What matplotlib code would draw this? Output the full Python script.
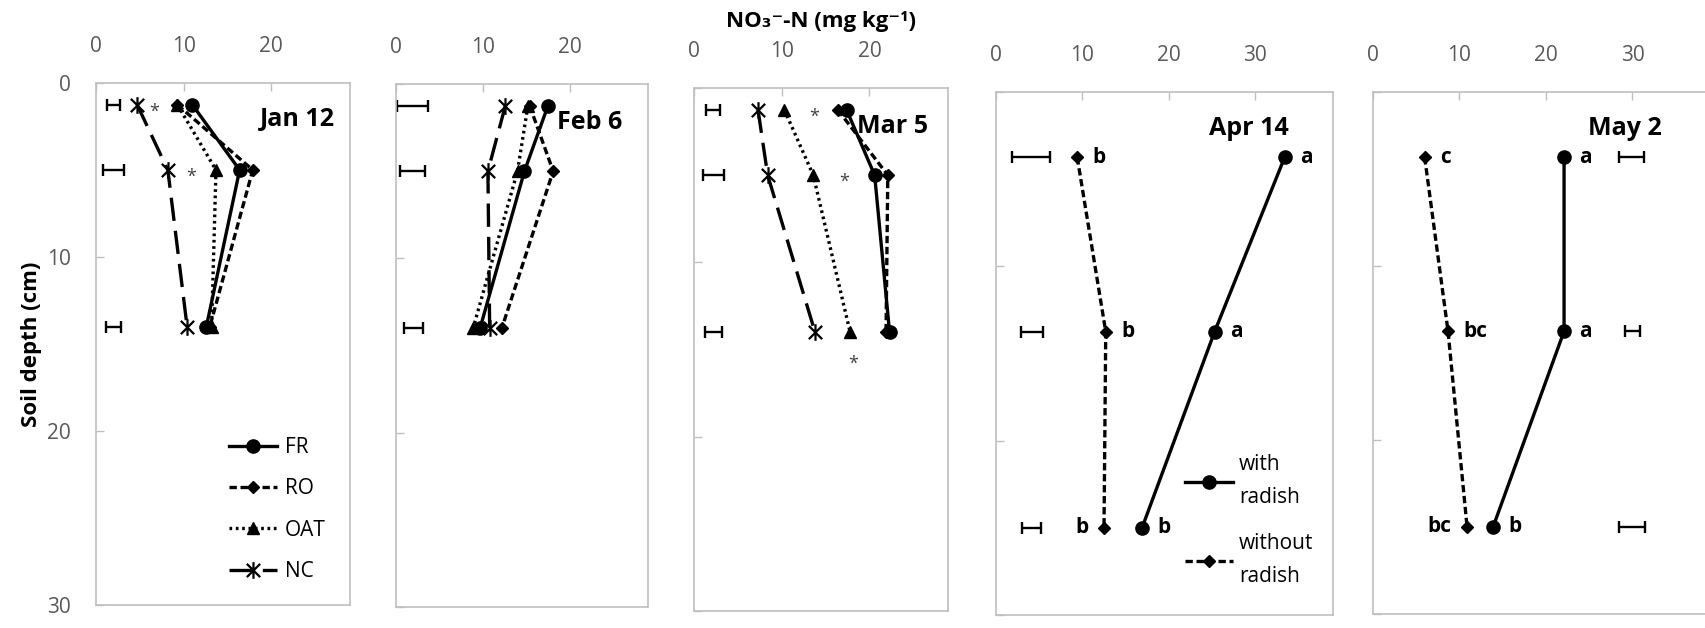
import matplotlib
matplotlib.use("Agg")
import matplotlib.pyplot as plt
from matplotlib.path import Path

plt.rcParams['font.family'] = ['Open Sans', 'DejaVu Sans']

# sampling depths (cm)
depth_winter = [1.25, 5.0, 14.0]
depth_spring = [3.75, 13.75, 25.0]

# NO3-N by cover crop treatment, Jan 12 / Feb 6 / Mar 5
treatments = ['FR', 'RO', 'OAT', 'NC']
jan_vals = {'FR': [11.0, 16.4, 12.6], 'RO': [9.3, 17.9, 13.0],
            'OAT': [9.3, 13.7, 13.2], 'NC': [4.7, 8.2, 10.4]}
feb_vals = {'FR': [17.5, 14.8, 9.7], 'RO': [15.4, 18.1, 12.2],
            'OAT': [15.2, 14.0, 8.9], 'NC': [12.6, 10.6, 10.8]}
mar_vals = {'FR': [17.4, 20.6, 22.3], 'RO': [16.4, 22.1, 21.9],
            'OAT': [10.3, 13.6, 17.8], 'NC': [7.3, 8.4, 13.8]}

# LSD bars: centre and half width
jan_lsd_x = [2.0, 2.0, 2.0]
jan_lsd_half = [0.7, 1.2, 0.9]
feb_lsd_x = [1.95, 1.95, 2.05]
feb_lsd_half = [1.75, 1.45, 1.1]
mar_lsd_x = [2.2, 2.2, 2.2]
mar_lsd_half = [0.8, 1.2, 0.95]

# significance asterisks (x, depth)
jan_stars = [(6.6, 1.25), (10.9, 5.0)]
mar_stars = [(13.7, 1.25), (17.1, 5.0), (18.2, 15.4)]

# with / without radish, Apr 14 and May 2
apr_with = [33.4, 25.3, 16.9]
apr_without = [9.4, 12.7, 12.5]
apr_with_letters = ['a', 'a', 'b']
apr_without_letters = ['b', 'b', 'b']
apr_lsd_x = [4.0, 4.15, 4.1]
apr_lsd_half = [2.2, 1.25, 1.05]

may_with = [22.1, 22.1, 13.9]
may_without = [6.0, 8.7, 10.9]
may_with_letters = ['a', 'a', 'b']
may_without_letters = ['c', 'bc', 'bc']
may_lsd_x = [29.9, 30.0, 30.0]
may_lsd_half = [1.4, 0.9, 1.5]

# Excel-like star marker: X with a vertical bar
star = Path([(0, -1), (0, 1), (-0.8, -0.8), (0.8, 0.8), (-0.8, 0.8), (0.8, -0.8)],
            [Path.MOVETO, Path.LINETO] * 3)

styles = {
    'FR': dict(ls='-', marker='o', ms=9.5),
    'RO': dict(ls=(0, (2.2, 1.1)), marker='D', ms=6.5),
    'OAT': dict(ls=(0, (0.8, 1.1)), marker='^', ms=9),
    'NC': dict(ls=(0, (7, 3)), marker=star, ms=12, mew=1.6, mfc='none'),
}
radish_with = dict(ls='-', marker='o', ms=9.5)
radish_without = dict(ls=(0, (2.2, 1.1)), marker='D', ms=6.5)

W, H = 1705, 628
fig = plt.figure(figsize=(W / 100, H / 100), dpi=100)


def add_panel(left, right, top, bottom, xmax, xticks):
    ax = fig.add_axes([left / W, 1 - bottom / H, (right - left) / W, (bottom - top) / H])
    ax.set_xlim(0, xmax)
    ax.set_ylim(30, 0)
    ax.xaxis.tick_top()
    ax.set_xticks(xticks)
    ax.set_yticks([0, 10, 20, 30])
    ax.tick_params(axis='both', direction='in', length=6, width=1, color='#bfbfbf',
                   labelsize=15, labelcolor='#595959')
    ax.tick_params(axis='x', pad=19)
    ax.tick_params(axis='y', pad=18, labelleft=False)
    for s in ax.spines.values():
        s.set_color('#bfbfbf')
        s.set_linewidth(1.2)
    return ax


def lsd(ax, xs, halves, depths):
    ax.errorbar(xs, depths, xerr=halves, fmt='none', ecolor='black',
                elinewidth=1.7, capsize=4.5, capthick=1.7)


def date_label(ax, x, y, text):
    ax.text(x, y, text, ha='right', va='center', fontsize=18, fontweight='bold')


def stars(ax, pts):
    for x, y in pts:
        ax.annotate('*', (x, y), xytext=(0, -5), textcoords='offset points',
                    ha='center', va='center', fontsize=13, color='#404040')


def letters(ax, xs, depths, labs, left_idx=()):
    for i, (x, y, t) in enumerate(zip(xs, depths, labs)):
        if i in left_idx:
            ax.annotate(t, (x, y), xytext=(-11, 0), textcoords='offset points',
                        ha='right', va='center', fontsize=15, fontweight='bold')
        else:
            ax.annotate(t, (x, y), xytext=(11, 0), textcoords='offset points',
                        ha='left', va='center', fontsize=15, fontweight='bold')


winter = [
    (jan_vals, jan_lsd_x, jan_lsd_half, (96, 350, 83, 605), 'Jan 12', 27.3, 2.1),
    (feb_vals, feb_lsd_x, feb_lsd_half, (395.7, 648, 84, 607), 'Feb 6', 26.0, 2.2),
    (mar_vals, mar_lsd_x, mar_lsd_half, (694, 948.3, 88, 611), 'Mar 5', 26.7, 2.2),
]

axes = []
for vals, lx, lh, box, title, tx, ty in winter:
    ax = add_panel(*box, 29, [0, 10, 20])
    for t in treatments:
        ax.plot(vals[t], depth_winter, color='black', lw=2.4, label=t, **styles[t])
    lsd(ax, lx, lh, depth_winter)
    date_label(ax, tx, ty, title)
    axes.append(ax)

ax1 = axes[0]
ax1.tick_params(axis='y', labelleft=True)
ax1.set_ylabel('Soil depth (cm)', fontsize=16, fontweight='bold', labelpad=4)
stars(ax1, jan_stars)
stars(axes[2], mar_stars)
ax1.legend(loc='upper left', bbox_to_anchor=(0.525, 0.322), frameon=False,
           fontsize=15, handlelength=2.3, handletextpad=0.35, labelspacing=0.98,
           borderpad=0, borderaxespad=0)

# radish panels
spring = [
    (apr_with, apr_without, apr_with_letters, apr_without_letters, apr_lsd_x, apr_lsd_half,
     (996, 1333, 92, 615), 'Apr 14', 33.9),
    (may_with, may_without, may_with_letters, may_without_letters, may_lsd_x, may_lsd_half,
     (1372.7, 1710.4, 92, 614), 'May 2', 33.4),
]
for w, wo, wl, wol, lx, lh, box, title, tx in spring:
    ax = add_panel(*box, 39, [0, 10, 20, 30])
    ax.plot(w, depth_spring, color='black', lw=2.4, label='with\nradish', **radish_with)
    ax.plot(wo, depth_spring, color='black', lw=2.4, label='without\nradish', **radish_without)
    lsd(ax, lx, lh, depth_spring)
    letters(ax, w, depth_spring, wl)
    letters(ax, wo, depth_spring, wol, left_idx=(2,))
    date_label(ax, tx, 2.1, title)
    axes.append(ax)

leg = axes[3].legend(loc='upper left', bbox_to_anchor=(0.56, 0.308), frameon=False,
                     fontsize=15, handlelength=2.3, handletextpad=0.3, labelspacing=1.2,
                     borderpad=0, borderaxespad=0)
for txt in leg.get_texts():
    txt.set_linespacing(1.75)

fig.text(820.8 / W, 1 - 22 / H, 'NO\u2083\u207b-N (mg kg\u207b\u00b9)', ha='center', va='center',
         fontsize=16, fontweight='bold')

fig.savefig('out.png', dpi=100)
